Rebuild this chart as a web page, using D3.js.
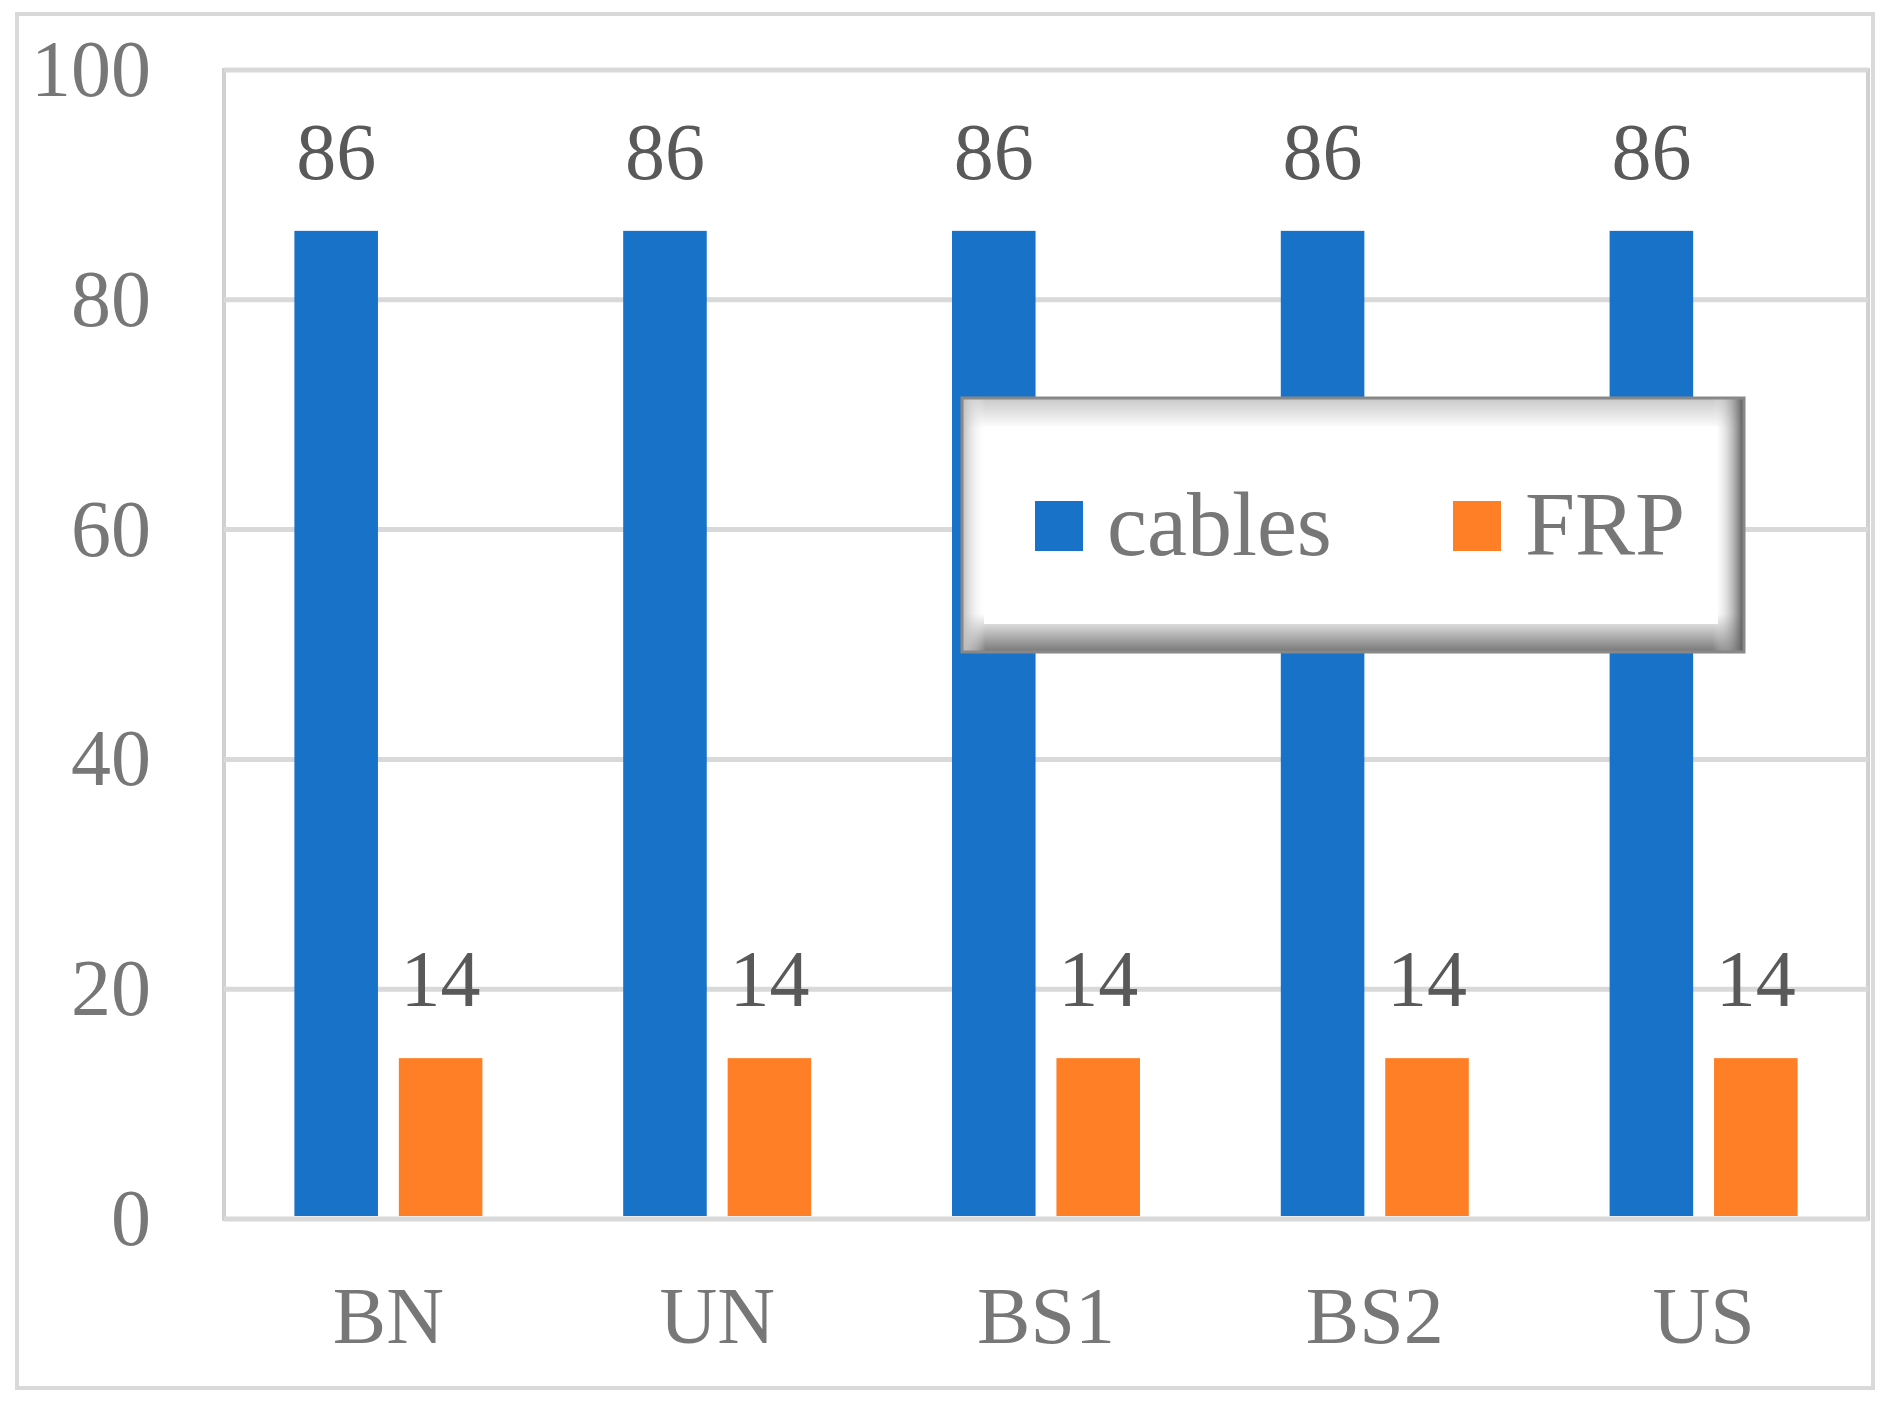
<!DOCTYPE html>
<html><head><meta charset="utf-8">
<script src="https://cdn.jsdelivr.net/npm/d3@7"></script>
<style>body{margin:0;background:#fff}</style>
</head><body><div id="content"></div>
<script>
// data
var categories = ["BN", "UN", "BS1", "BS2", "US"];
var seriesNames = ["cables", "FRP"];
var cables = [86, 86, 86, 86, 86];
var frp = [14, 14, 14, 14, 14];
var yTicks = [0, 20, 40, 60, 80, 100];
var colors = ["#1872c8", "#fe7f26"];

var w = 1892, h = 1404;
var pLeft = 224, pTop = 70, pRight = 1868, pBottom = 1219;
var font = "'Liberation Serif', 'Times New Roman', serif";

var svg = d3.select("#content").append("svg").attr("width", w).attr("height", h);

var defs = svg.append("defs");
var g1 = defs.append("linearGradient").attr("id", "bev").attr("x1", 0).attr("y1", 0).attr("x2", 0).attr("y2", 1);
g1.append("stop").attr("offset", 0).attr("stop-color", "#c8c8c8");
g1.append("stop").attr("offset", 0.12).attr("stop-color", "#ffffff");
g1.append("stop").attr("offset", 0.85).attr("stop-color", "#ffffff");
g1.append("stop").attr("offset", 1).attr("stop-color", "#777");
var g2 = defs.append("linearGradient").attr("id", "bevx").attr("x1", 0).attr("y1", 0).attr("x2", 1).attr("y2", 0);
g2.append("stop").attr("offset", 0).attr("stop-color", "#bbb");
g2.append("stop").attr("offset", 0.03).attr("stop-color", "#fff").attr("stop-opacity", 0);
g2.append("stop").attr("offset", 0.96).attr("stop-color", "#fff").attr("stop-opacity", 0);
g2.append("stop").attr("offset", 1).attr("stop-color", "#555");

// outer frame
svg.append("rect").attr("x", 17).attr("y", 14).attr("width", 1856).attr("height", 1374)
    .attr("fill", "#fff").attr("stroke", "#d9d9d9").attr("stroke-width", 4);

var x = d3.scaleBand().domain(categories).range([pLeft, pRight]);
var xs = d3.scaleBand().domain(seriesNames).range([-94, 94]).paddingInner(0.2);
var y = d3.scaleLinear().domain([0, 100]).range([pBottom, pTop]);

svg.append("rect").attr("x", pLeft).attr("y", pTop).attr("width", pRight - pLeft).attr("height", pBottom - pTop)
    .attr("fill", "none").attr("stroke", "#d0d0d0").attr("stroke-width", 4);

svg.selectAll("line.grid").data(yTicks).enter().append("line")
    .attr("x1", pLeft).attr("x2", pRight)
    .attr("y1", function(d) { return y(d); }).attr("y2", function(d) { return y(d); })
    .attr("stroke", "#d9d9d9").attr("stroke-width", 5);

svg.selectAll("text.yt").data(yTicks).enter().append("text")
    .attr("x", 151).attr("y", function(d) { return y(d) + 26; })
    .attr("text-anchor", "end").attr("font-family", font).attr("font-size", 80).attr("fill", "#777")
    .text(function(d) { return d; });

var rows = [];
categories.forEach(function(c, i) {
    rows.push({cat: c, s: 0, v: cables[i]});
    rows.push({cat: c, s: 1, v: frp[i]});
});

var cx = function(d) { return x(d.cat) + x.bandwidth() / 2 + xs(seriesNames[d.s]); };

svg.selectAll("rect.bar").data(rows).enter().append("rect")
    .attr("x", cx).attr("width", xs.bandwidth())
    .attr("y", function(d) { return y(d.v); })
    .attr("height", function(d) { return y(0) - y(d.v) - 3; })
    .attr("fill", function(d) { return colors[d.s]; });

svg.selectAll("text.val").data(rows).enter().append("text")
    .attr("x", function(d) { return cx(d) + xs.bandwidth() / 2; })
    .attr("y", function(d) { return y(d.v) - 52; })
    .attr("text-anchor", "middle").attr("font-family", font).attr("font-size", 80).attr("fill", "#595959")
    .text(function(d) { return d.v; });

svg.selectAll("text.cat").data(categories).enter().append("text")
    .attr("x", function(d) { return x(d) + x.bandwidth() / 2; })
    .attr("y", 1343).attr("text-anchor", "middle")
    .attr("font-family", font).attr("font-size", 80).attr("fill", "#777")
    .text(function(d) { return d; });

// legend with bevel
var lg = svg.append("g").attr("transform", "translate(962,398)");
lg.append("rect").attr("width", 782).attr("height", 254).attr("fill", "url(#bev)");
lg.append("rect").attr("width", 782).attr("height", 254).attr("fill", "url(#bevx)");
lg.append("rect").attr("x", 22).attr("y", 28).attr("width", 734).attr("height", 198).attr("fill", "#fff");
lg.append("rect").attr("width", 782).attr("height", 254).attr("fill", "none").attr("stroke", "#888").attr("stroke-width", 3);
var lx = [73, 491];
seriesNames.forEach(function(n, i) {
    lg.append("rect").attr("x", lx[i]).attr("y", 103).attr("width", 48).attr("height", 50).attr("fill", colors[i]);
    lg.append("text").attr("x", lx[i] + 72).attr("y", 157).attr("font-family", font)
        .attr("font-size", 90).attr("fill", "#777").text(n);
});
</script></body></html>
